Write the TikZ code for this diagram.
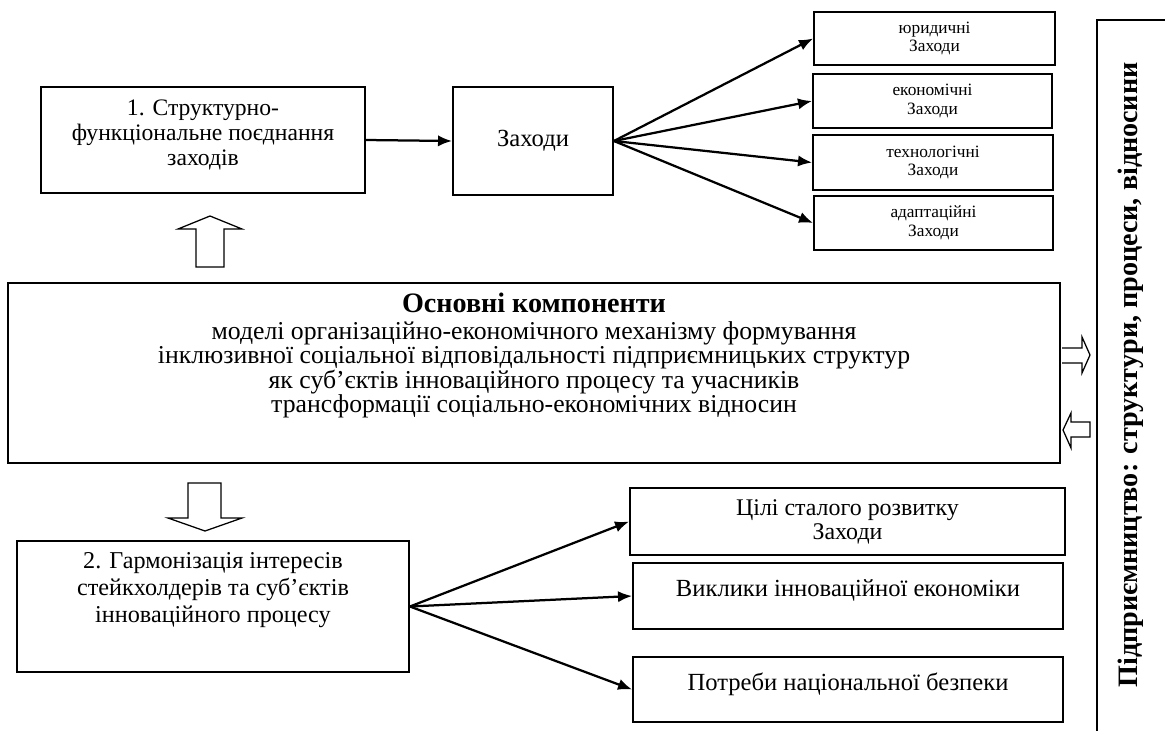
\documentclass[tikz,border=0pt]{standalone}
\usepackage{fontspec}
\setmainfont{Liberation Serif}
\usetikzlibrary{arrows.meta}
\newcommand{\px}{0.025cm}

\begin{document}
\begin{tikzpicture}[x=\px, y=-\px, > = {Latex[length=10pt,width=8pt]},
  box/.style={draw, line width=1.3pt, align=center, inner sep=0pt, font=\fontsize{17.5}{17.5}\selectfont},
  smallbox/.style={box, font=\fontsize{12.3}{13.2}\selectfont},
  link/.style={draw, line width=1.6pt, ->},
  hollow/.style={draw, line width=0.9pt, fill=white}]

  \useasboundingbox (0,0) rectangle (1165,731);

  % upper part
  \node[box, minimum width=324*\px, minimum height=106*\px, font=\fontsize{16.8}{17.8}\selectfont] (struct) at (203,140) {1. Структурно-\\функціональне поєднання\\заходів\\[-7pt]\mbox{}};
  \node[box, minimum width=160*\px, minimum height=108*\px] (zakhody) at (533,141) {Заходи};
  \node[smallbox, minimum width=241*\px, minimum height=53*\px] (yur) at (934.5,38.5) {юридичні\\Заходи};
  \node[smallbox, minimum width=239*\px, minimum height=54*\px] (ekon) at (932.5,101) {економічні\\Заходи};
  \node[smallbox, minimum width=240*\px, minimum height=55*\px] (tekh) at (933,162.5) {технологічні\\Заходи};
  \node[smallbox, minimum width=239*\px, minimum height=54*\px] (adapt) at (933.5,223) {адаптаційні\\Заходи};

  \path[link] (struct.east) -- (zakhody.west);
  \foreach \t in {yur,ekon,tekh,adapt}
    \path[link] (zakhody.east) -- (\t.west);

  % main block
  \node[box, minimum width=1052*\px, minimum height=180*\px, font=\fontsize{18.3}{17}\selectfont] (main) at (534,373) {{\bfseries\fontsize{20}{17}\selectfont Основні компоненти}\\[2pt]моделі організаційно-економічного механізму формування\\інклюзивної соціальної відповідальності підприємницьких структур\\як суб’єктів інноваційного процесу та учасників\\трансформації соціально-економічних відносин\\[12pt]\mbox{}};

  % lower part
  \node[box, minimum width=392*\px, minimum height=131*\px, font=\fontsize{17.2}{19.2}\selectfont] (harm) at (213,606.5) {2. Гармонізація інтересів\\стейкхолдерів та суб’єктів\\ інноваційного процесу\\[8pt]\mbox{}};
  \node[box, minimum width=435*\px, minimum height=67*\px, font=\fontsize{17}{17}\selectfont] (tsili) at (847.5,521.5) {Цілі сталого розвитку\\Заходи};
  \node[box, minimum width=430*\px, minimum height=66*\px] (vyk) at (848,596) {Виклики інноваційної економіки\\[-6pt]\mbox{}};
  \node[box, minimum width=430*\px, minimum height=65*\px] (potr) at (848,689.5) {Потреби національної безпеки\\[-6pt]\mbox{}};

  \foreach \t in {tsili,vyk,potr}
    \path[link] (harm.east) -- (\t.west);

  % hollow arrows
  \path[hollow] (196,267) -- (196,229) -- (178,229) -- (210,216) -- (242,229) -- (224,229) -- (224,267) -- cycle;
  \path[hollow] (188,483) -- (221,483) -- (221,518) -- (242,518) -- (205,531) -- (168,518) -- (188,518) -- cycle;
  \path[hollow] (1062,348) -- (1082,348) -- (1082,337) -- (1090,355) -- (1082,373) -- (1082,363) -- (1062,363);
  \path[hollow] (1090,422) -- (1071,422) -- (1071,413) -- (1063,430) -- (1071,448) -- (1071,437) -- (1090,437) -- cycle;

  % side panel
  \path[draw, line width=1.3pt] (1165,20) -- (1097,20) -- (1097,731);
  \node[rotate=90, font=\bfseries\fontsize{20}{22}\selectfont] (panel) at (1131,375) {Підприємництво: структури, процеси, відносини};
\end{tikzpicture}
\end{document}
